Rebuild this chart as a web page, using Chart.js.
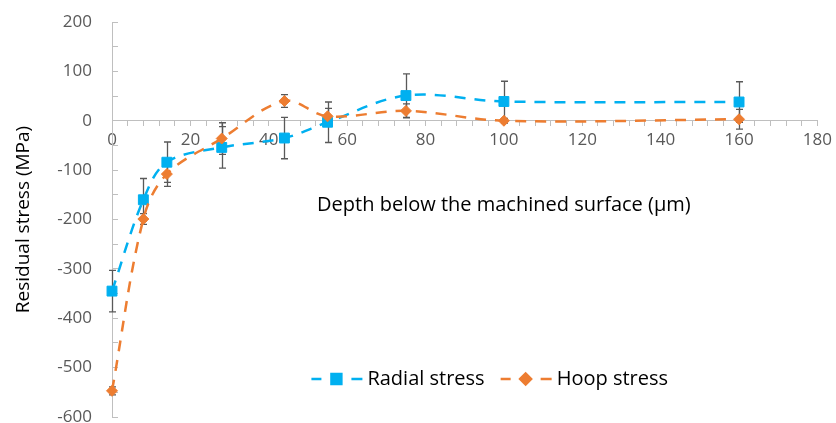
<!DOCTYPE html>
<html>
<head>
<meta charset="utf-8">
<title>Residual stress vs depth</title>
<script src="https://cdn.jsdelivr.net/npm/chart.js@4.4.1/dist/chart.umd.min.js"></script>
<style>
    html, body { margin: 0; padding: 0; background: #fff; }
    #wrap { position: relative; width: 836px; height: 423px; }
</style>
</head>
<body>
<div id="wrap"><canvas id="stressChart"></canvas></div>
<script>
// --- Data ---
const depth = [0, 8, 14, 28, 44, 55, 75, 100, 160];              // µm
const radialStress = [-345, -160, -84, -54, -35, -3, 51, 39, 38];  // MPa
const radialError = [42, 43, 41, 42, 42, 41, 44, 41, 41];
const hoopStress = [-547, -199, -108, -36, 40, 9, 20, 0, 3];
const hoopError = [8, 11, 25, 32, 13, 16, 14, 5, 20];
const xTickLabels = [0, 20, 40, 60, 80, 100, 120, 140, 160, 180];
const yTickLabels = [200, 100, 0, -100, -200, -300, -400, -500, -600];

const BLUE = '#00B0F0';
const ORANGE = '#ED7D31';
const AXIS = '#BFBFBF';
const TICK_TEXT = '#595959';

Chart.defaults.font.family = "'Open Sans', sans-serif";

const toPoints = (ys) => depth.map((d, i) => ({ x: d, y: ys[i] }));
const errorsBySeries = [radialError, hoopError];

// --- Plugins ---

// vertical error bars, drawn under the lines and markers
const errorBars = {
    id: 'errorBars',
    beforeDatasetsDraw(chart) {
        const { ctx, scales: { x, y } } = chart;
        ctx.save();
        ctx.strokeStyle = '#595959';
        ctx.lineWidth = 1.3;
        chart.data.datasets.forEach((ds, k) => {
            errorsBySeries[k].forEach((err, i) => {
                const px = Math.round(x.getPixelForValue(ds.data[i].x)) + 0.5;
                const top = y.getPixelForValue(ds.data[i].y + err);
                const bot = y.getPixelForValue(ds.data[i].y - err);
                ctx.beginPath();
                ctx.moveTo(px, top); ctx.lineTo(px, bot);
                ctx.moveTo(px - 3.5, top); ctx.lineTo(px + 3.5, top);
                ctx.moveTo(px - 3.5, bot); ctx.lineTo(px + 3.5, bot);
                ctx.stroke();
            });
        });
        ctx.restore();
    }
};

// x axis title sits inside the plot area, like the original
const xAxisTitle = {
    id: 'xAxisTitle',
    afterDraw(chart) {
        const { ctx, scales: { x, y } } = chart;
        ctx.save();
        ctx.font = "20px 'Open Sans', sans-serif";
        ctx.fillStyle = '#000';
        ctx.textAlign = 'center';
        ctx.textBaseline = 'middle';
        ctx.fillText('Depth below the machined surface (µm)', x.getPixelForValue(100), y.getPixelForValue(-172));
        ctx.restore();
    }
};

// legend: dash - marker - dash, then the label
const seriesLegend = {
    id: 'seriesLegend',
    afterDraw(chart) {
        const { ctx, chartArea } = chart;
        const datasets = chart.data.datasets;
        ctx.save();
        ctx.font = "20px 'Open Sans', sans-serif";
        const widths = datasets.map(ds => 56 + ctx.measureText(ds.label).width);
        const total = widths.reduce((a, b) => a + b, 0) + 16 * (datasets.length - 1);
        let sx = (chartArea.left + chartArea.right) / 2 + 25 - total / 2;
        const ly = chartArea.bottom - 38;

        datasets.forEach((ds, i) => {
            ctx.strokeStyle = ds.borderColor;
            ctx.lineWidth = ds.borderWidth;
            ctx.setLineDash([]);
            ctx.beginPath();
            ctx.moveTo(sx, ly); ctx.lineTo(sx + 10, ly);
            ctx.moveTo(sx + 40, ly); ctx.lineTo(sx + 51, ly);
            ctx.stroke();

            ctx.fillStyle = ds.pointBackgroundColor;
            ctx.strokeStyle = ds.pointBorderColor;
            Chart.helpers.drawPoint(ctx, {
                pointStyle: ds.pointStyle,
                radius: ds.pointRadius,
                borderWidth: ds.pointBorderWidth,
                rotation: 0
            }, sx + 25, ly);

            ctx.fillStyle = '#000';
            ctx.textAlign = 'left';
            ctx.textBaseline = 'middle';
            ctx.fillText(ds.label, sx + 56, ly);
            sx += widths[i] + 16;
        });
        ctx.restore();
    }
};

// --- Chart ---
const ctx = document.getElementById('stressChart').getContext('2d');
new Chart(ctx, {
    type: 'line',
    data: {
        datasets: [
            {
                label: 'Radial stress',
                data: toPoints(radialStress),
                borderColor: BLUE,
                borderWidth: 2.5,
                borderDash: [11, 9],
                tension: 0.35,
                pointStyle: 'rect',
                pointRadius: 7,
                pointHoverRadius: 7,
                pointBackgroundColor: BLUE,
                pointBorderColor: BLUE,
                pointBorderWidth: 1,
                clip: false,
                order: 1
            },
            {
                label: 'Hoop stress',
                data: toPoints(hoopStress),
                borderColor: ORANGE,
                borderWidth: 2.5,
                borderDash: [11, 9],
                tension: 0.35,
                pointStyle: 'rectRot',
                pointRadius: 5.5,
                pointHoverRadius: 5.5,
                pointBackgroundColor: ORANGE,
                pointBorderColor: ORANGE,
                pointBorderWidth: 1,
                clip: false,
                order: 0
            }
        ]
    },
    options: {
        responsive: true,
        maintainAspectRatio: false,
        animation: false,
        layout: {
            autoPadding: false,
            padding: { top: 22, right: 15, bottom: 6, left: 0 }
        },
        plugins: {
            legend: { display: false },
            tooltip: { enabled: false }
        },
        scales: {
            x: {
                type: 'linear',
                min: 0,
                max: 180,
                position: { y: 0 },
                ticks: {
                    stepSize: 4,
                    autoSkip: false,
                    maxRotation: 0,
                    padding: 4,
                    color: TICK_TEXT,
                    font: { size: 17 },
                    callback: v => xTickLabels.includes(v) ? v : ''
                },
                grid: { drawOnChartArea: false, tickLength: 5, color: AXIS },
                border: { color: AXIS, width: 1 },
                afterFit(scale) {
                    scale.height = 0;
                    scale.paddingTop = 0;
                    scale.paddingBottom = 0;
                }
            },
            y: {
                min: -600,
                max: 200,
                ticks: {
                    stepSize: 50,
                    padding: 26,
                    color: TICK_TEXT,
                    font: { size: 17 },
                    callback: v => yTickLabels.includes(v) ? v : ''
                },
                grid: { drawOnChartArea: false, tickLength: -6, color: AXIS },
                border: { color: AXIS, width: 1 },
                title: {
                    display: true,
                    text: 'Residual stress (MPa)',
                    color: '#000',
                    font: { size: 19 },
                    padding: { top: 12, bottom: 0 }
                },
                afterFit(scale) {
                    scale.width = 112;
                    scale.paddingTop = 0;
                    scale.paddingBottom = 0;
                }
            }
        }
    },
    plugins: [errorBars, xAxisTitle, seriesLegend]
});
</script>
</body>
</html>
